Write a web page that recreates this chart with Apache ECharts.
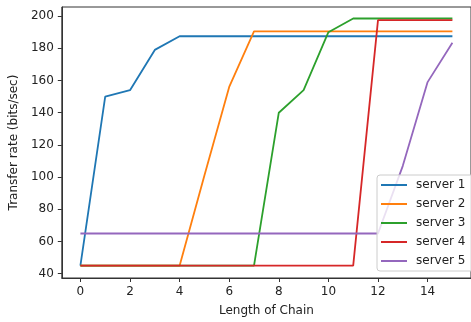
<!DOCTYPE html>
<html>
<head>
<meta charset="utf-8">
<script src="https://cdn.jsdelivr.net/npm/echarts@6/dist/echarts.min.js"></script>
<style>html,body{margin:0;padding:0;background:#fff}#c{width:471px;height:322px}</style>
</head>
<body>
<div id="c"></div>
<script>
const xs = [0,1,2,3,4,5,6,7,8,9,10,11,12,13,14,15];
const server1 = [45,150,154,179,187.5,187.5,187.5,187.5,187.5,187.5,187.5,187.5,187.5,187.5,187.5,187.5];
const server2 = [45,45,45,45,45,101,156,190.5,190.5,190.5,190.5,190.5,190.5,190.5,190.5,190.5];
const server3 = [45,45,45,45,45,45,45,45,140,154,190,198.5,198.5,198.5,198.5,198.5];
const server4 = [45,45,45,45,45,45,45,45,45,45,45,45,197.5,197.5,197.5,197.5];
const server5 = [65,65,65,65,65,65,65,65,65,65,65,65,65,107,159,183.5];
const names = ['server 1','server 2','server 3','server 4','server 5'];
const colors = ['#1f77b4','#ff7f0e','#2ca02c','#d62728','#9467bd'];
const xTicks = [0,2,4,6,8,10,12,14];
const yTicks = [40,60,80,100,120,140,160,180,200];

const all = [server1,server2,server3,server4,server5];
const font = 'DejaVu Sans';
const chart = echarts.init(document.getElementById('c'), null, {renderer:'canvas'});
chart.setOption({
  animation:false,
  backgroundColor:'#fff',
  grid:{left:60,right:-8,top:7,bottom:44,show:true,borderColor:'#333',borderWidth:1,backgroundColor:'transparent'},
  xAxis:{type:'value',min:-0.75,max:15.75,
    name:'Length of Chain',nameLocation:'middle',nameGap:27,
    nameTextStyle:{fontFamily:font,fontSize:12,color:'#222',verticalAlign:'top'},
    axisLine:{show:true,onZero:false,lineStyle:{color:'#333',width:1}},
    axisTick:{show:true,length:4,customValues:xTicks,lineStyle:{color:'#333'}},
    axisLabel:{customValues:xTicks,margin:8,fontFamily:font,fontSize:12,color:'#222'},
    splitLine:{show:false}},
  yAxis:{type:'value',min:37.35,max:205.65,
    name:'Transfer rate (bits/sec)',nameLocation:'middle',nameGap:40,
    nameTextStyle:{fontFamily:font,fontSize:12,color:'#222'},
    axisLine:{show:true,onZero:false,lineStyle:{color:'#333',width:1}},
    axisTick:{show:true,length:4,customValues:yTicks,lineStyle:{color:'#333'}},
    axisLabel:{customValues:yTicks,margin:8,fontFamily:font,fontSize:12,color:'#222'},
    splitLine:{show:false}},
  legend:{orient:'vertical',left:377,top:175,icon:'rect',itemWidth:26,itemHeight:2,itemGap:7,
    padding:[4,20,4,4],backgroundColor:'rgba(255,255,255,0.8)',borderColor:'#ccc',borderWidth:1,borderRadius:3,
    textStyle:{fontFamily:font,fontSize:12,color:'#222',padding:[0,0,0,4]},
    data:names},
  series: all.map((arr,i)=>({
    name:names[i],type:'line',data:xs.map((x,j)=>[x,arr[j]]),
    showSymbol:false,symbol:'none',
    lineStyle:{color:colors[i],width:1.8},itemStyle:{color:colors[i]}
  }))
});
</script>
</body>
</html>
